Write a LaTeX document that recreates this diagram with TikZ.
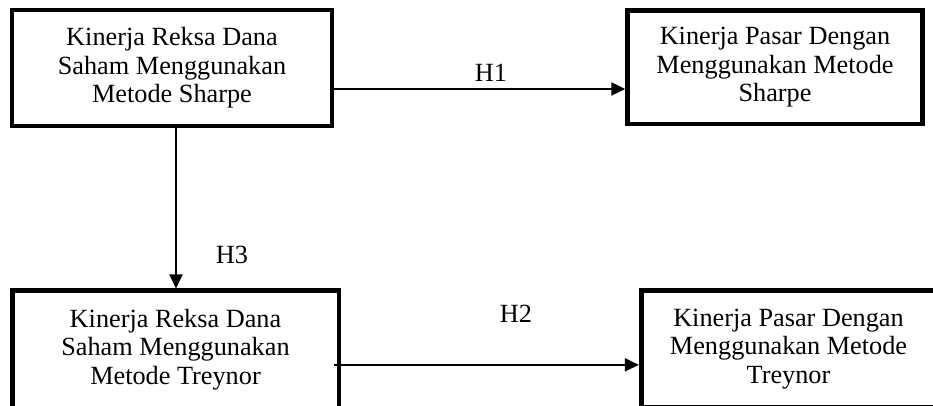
\documentclass[tikz,border=0pt]{standalone}
\usepackage{fontspec}
\setmainfont{Liberation Serif}
\usetikzlibrary{arrows.meta}

\tikzset{
  kotak/.style={draw, line width=3.5pt, align=center, inner sep=0pt,
    font=\fontsize{19.7}{21.3}\selectfont},
  panah/.style={-{Triangle[length=10.5pt,width=9.75pt]}, line width=1.5pt},
  label H/.style={font=\fontsize{19.7}{21.3}\selectfont}
}

\begin{document}
\begin{tikzpicture}[x=0.75pt, y=-0.75pt]
\useasboundingbox (0,0) rectangle (933,406);
\clip (0,0) rectangle (933,406);
% kotak-kotak
\node[kotak, minimum width=240pt, minimum height=87pt] (rdsharpe) at (172,68)
  {Kinerja Reksa Dana\\Saham Menggunakan\\Metode Sharpe};
\node[kotak, minimum width=221pt, minimum height=85pt] (pasarsharpe) at (775,67.5)
  {Kinerja Pasar Dengan\\Menggunakan Metode\\Sharpe};
\node[kotak, minimum width=245pt, minimum height=88pt] (rdtreynor) at (175.5,349.5)
  {Kinerja Reksa Dana\\Saham Menggunakan\\Metode Treynor};
\node[kotak, minimum width=221pt, minimum height=88pt] (pasartreynor) at (788.5,349)
  {Kinerja Pasar Dengan\\Menggunakan Metode\\Treynor};
% hipotesis
\draw[panah] ([yshift=-15.75pt]rdsharpe.east) -- ([yshift=-15.75pt]rdsharpe.east -| pasarsharpe.west);
\draw[panah] ([xshift=3pt]rdsharpe.south) -- ([xshift=3pt]rdsharpe.south |- rdtreynor.north);
\draw[panah] ([xshift=-5.25pt, yshift=-11.5pt]rdtreynor.east) -- ([yshift=-11.5pt]rdtreynor.east -| pasartreynor.west);
\node[label H] (H1) at (491,73) {H1};
\node[label H] (H2) at (516,314) {H2};
\node[label H] (H3) at (232,255) {H3};
\end{tikzpicture}
\end{document}
